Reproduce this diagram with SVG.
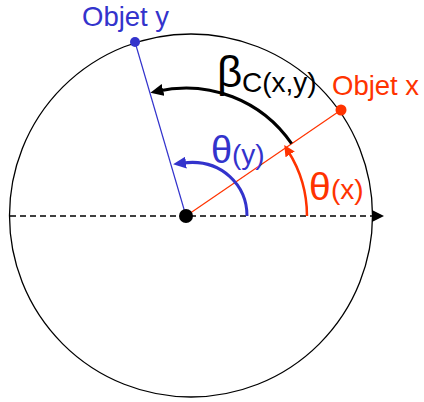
<svg xmlns="http://www.w3.org/2000/svg" width="424" height="402" viewBox="0 0 424 402">
  <style>
    text { font-family: "Liberation Sans", Arial, sans-serif; }
    .blue { fill: #3333cc; }
    .red { fill: #ff3300; }
    .blk { fill: #000; }
  </style>
  <defs>
    <marker id="ahBlack" markerUnits="userSpaceOnUse" markerWidth="14" markerHeight="12" refX="6" refY="6" orient="auto">
      <path d="M0,0 L13,6 L0,12 z" fill="#000"/>
    </marker>
    <marker id="ahBlue" markerUnits="userSpaceOnUse" markerWidth="14" markerHeight="12" refX="3" refY="6" orient="auto">
      <path d="M0,0 L13,6 L0,12 z" fill="#3333cc"/>
    </marker>
    <marker id="ahRed" markerUnits="userSpaceOnUse" markerWidth="12" markerHeight="11" refX="4" refY="5.5" orient="auto">
      <path d="M0,0 L11,5.5 L0,11 z" fill="#ff3300"/>
    </marker>
    <marker id="ahAxis" markerUnits="userSpaceOnUse" markerWidth="13" markerHeight="12" refX="2" refY="6" orient="auto">
      <path d="M0,0 L12,6 L0,12 z" fill="#000"/>
    </marker>
  </defs>

  <g id="circle">
    <circle cx="191" cy="215.5" r="181.5" fill="none" stroke="#000" stroke-width="1.3"/>
  </g>

  <g id="connectors" fill="none">
    <path id="axis" d="M10,216 H374" stroke="#000" stroke-width="1.3" stroke-dasharray="6,4" marker-end="url(#ahAxis)"/>
    <path id="ray-x" d="M186,216 L341,110" stroke="#ff3300" stroke-width="1.2"/>
    <path id="ray-y" d="M186,216 L135,42" stroke="#3333cc" stroke-width="1.2"/>
    <path id="arc-theta-x" d="M307,216 A121,121 0 0 0 288,151" stroke="#ff3300" stroke-width="2.5" marker-end="url(#ahRed)"/>
    <path id="arc-theta-y" d="M247,216 C247,186 222,158 183,163" stroke="#3333cc" stroke-width="3" marker-end="url(#ahBlue)"/>
    <path id="arc-beta" d="M291.6,143.7 A128,128 0 0 0 157.2,91.3" stroke="#000" stroke-width="3" marker-end="url(#ahBlack)"/>
  </g>

  <g id="center">
    <circle cx="186" cy="216" r="7" fill="#000"/>
  </g>
  <g id="objet-x">
    <circle cx="341" cy="110" r="5.5" fill="#ff3300"/>
    <text x="332" y="95" font-size="27.5" class="red">Objet x</text>
  </g>
  <g id="objet-y">
    <circle cx="135" cy="42" r="5" fill="#3333cc"/>
    <text x="82" y="26" font-size="27.5" class="blue">Objet y</text>
  </g>

  <g id="labels">
    <text x="217" y="87" font-size="44" class="blk">β</text>
    <text x="242" y="92" font-size="28" class="blk">C(x,y)</text>
    <text x="211" y="163" font-size="38" class="blue">θ</text>
    <text x="232" y="164" font-size="28" class="blue">(y)</text>
    <text x="309" y="200" font-size="39" class="red">θ</text>
    <text x="331" y="199" font-size="28" class="red">(x)</text>
  </g>
</svg>
